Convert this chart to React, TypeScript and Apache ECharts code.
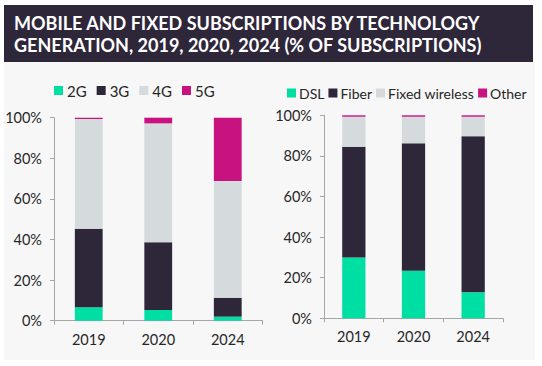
import React, { useEffect, useRef } from "react";
import * as echarts from "echarts";

const years = ["2019", "2020", "2024"];
const mobileNames = ["2G", "3G", "4G", "5G"];
const mobile2G = [6.6, 5.3, 2.0];
const mobile3G = [38.7, 33.3, 9.3];
const mobile4G = [54.0, 58.6, 57.5];
const mobile5G = [0.7, 2.8, 31.2];
const fixedNames = ["DSL", "Fiber", "Fixed wireless", "Other"];
const fixedDSL = [30.0, 23.4, 12.8];
const fixedFiber = [54.5, 62.8, 76.9];
const fixedWireless = [14.8, 13.1, 9.6];
const fixedOther = [0.7, 0.7, 0.7];
const yTicks = [0, 20, 40, 60, 80, 100];

const COLORS = ["#00DFA3", "#2E2639", "#D5DADD", "#C8127F"];
const FONT = "Lato, 'Noto Sans', sans-serif";
const TXT = "#262626";
const AXIS = "#A6A6A6";

export default function App() {
  const ref = useRef<HTMLDivElement>(null);
  useEffect(() => {
    const chart = echarts.init(ref.current!, null, { renderer: "svg" });
    const mkX = (gi: number) => ({
      type: "category",
      gridIndex: gi,
      data: years,
      axisLine: { lineStyle: { color: AXIS, width: 1 } },
      axisTick: { show: true, length: 4, lineStyle: { color: AXIS } },
      axisLabel: { color: TXT, fontSize: 14.5, fontFamily: FONT, margin: 11 },
    });
    const mkY = (gi: number) => ({
      type: "value",
      gridIndex: gi,
      min: yTicks[0],
      max: yTicks[yTicks.length - 1],
      interval: 20,
      splitLine: { show: false },
      axisLine: { show: true, lineStyle: { color: AXIS, width: 1 } },
      axisTick: { show: true, length: 4, lineStyle: { color: AXIS } },
      axisLabel: {
        color: TXT,
        fontSize: 14.5,
        fontFamily: FONT,
        margin: 12,
        formatter: "{value}%",
      },
    });
    const mobileData = [mobile2G, mobile3G, mobile4G, mobile5G];
    const fixedData = [fixedDSL, fixedFiber, fixedWireless, fixedOther];
    const series: any[] = [];
    mobileNames.forEach((n, i) =>
      series.push({
        type: "bar",
        name: n,
        stack: "m",
        xAxisIndex: 0,
        yAxisIndex: 0,
        data: mobileData[i],
        barWidth: "40%",
        itemStyle: { color: COLORS[i] },
      })
    );
    fixedNames.forEach((n, i) =>
      series.push({
        type: "bar",
        name: n,
        stack: "f",
        xAxisIndex: 1,
        yAxisIndex: 1,
        data: fixedData[i],
        barWidth: "39%",
        itemStyle: { color: COLORS[i] },
      })
    );
    chart.setOption({
      animation: false,
      backgroundColor: "#ffffff",
      graphic: [
        {
          type: "rect",
          shape: { x: 4, y: 62, width: 531, height: 298 },
          style: { fill: "#F7F7F7" },
          z: -10,
        },
        {
          type: "rect",
          shape: { x: 4, y: 5, width: 529, height: 57 },
          style: { fill: "#2E2639" },
          z: -10,
        },
        {
          type: "text",
          x: 14,
          y: 12,
          style: {
            text: "MOBILE AND FIXED SUBSCRIPTIONS BY TECHNOLOGY\nGENERATION, 2019, 2020, 2024 (% OF SUBSCRIPTIONS)",
            fill: "#ffffff",
            font: `bold 18px ${FONT}`,
            lineHeight: 22,
          },
        },
      ],
      legend: [
        {
          icon: "rect",
          itemWidth: 9,
          itemHeight: 9,
          orient: "horizontal",
          padding: 0,
          width: 240,
          textStyle: { color: TXT, fontSize: 15, fontFamily: FONT, padding: [0, 0, 0, -1] },
          data: mobileNames,
          left: 54,
          top: 83,
          itemGap: 10,
        },
        {
          icon: "rect",
          itemWidth: 9,
          itemHeight: 9,
          orient: "horizontal",
          padding: 0,
          width: 260,
          textStyle: { color: TXT, fontSize: 14, fontFamily: FONT, padding: [0, 0, 0, -2] },
          data: fixedNames,
          left: 287,
          top: 86,
          itemGap: 4,
        },
      ],
      grid: [
        { left: 54, top: 117.7, width: 208.5, height: 203 },
        { left: 324, top: 115.3, width: 179, height: 203 },
      ],
      xAxis: [mkX(0), mkX(1)],
      yAxis: [mkY(0), mkY(1)],
      series,
    });
    return () => chart.dispose();
  }, []);
  return (
    <div
      ref={ref}
      style={{ position: "fixed", left: 0, top: 0, width: 542, height: 366 }}
    />
  );
}
